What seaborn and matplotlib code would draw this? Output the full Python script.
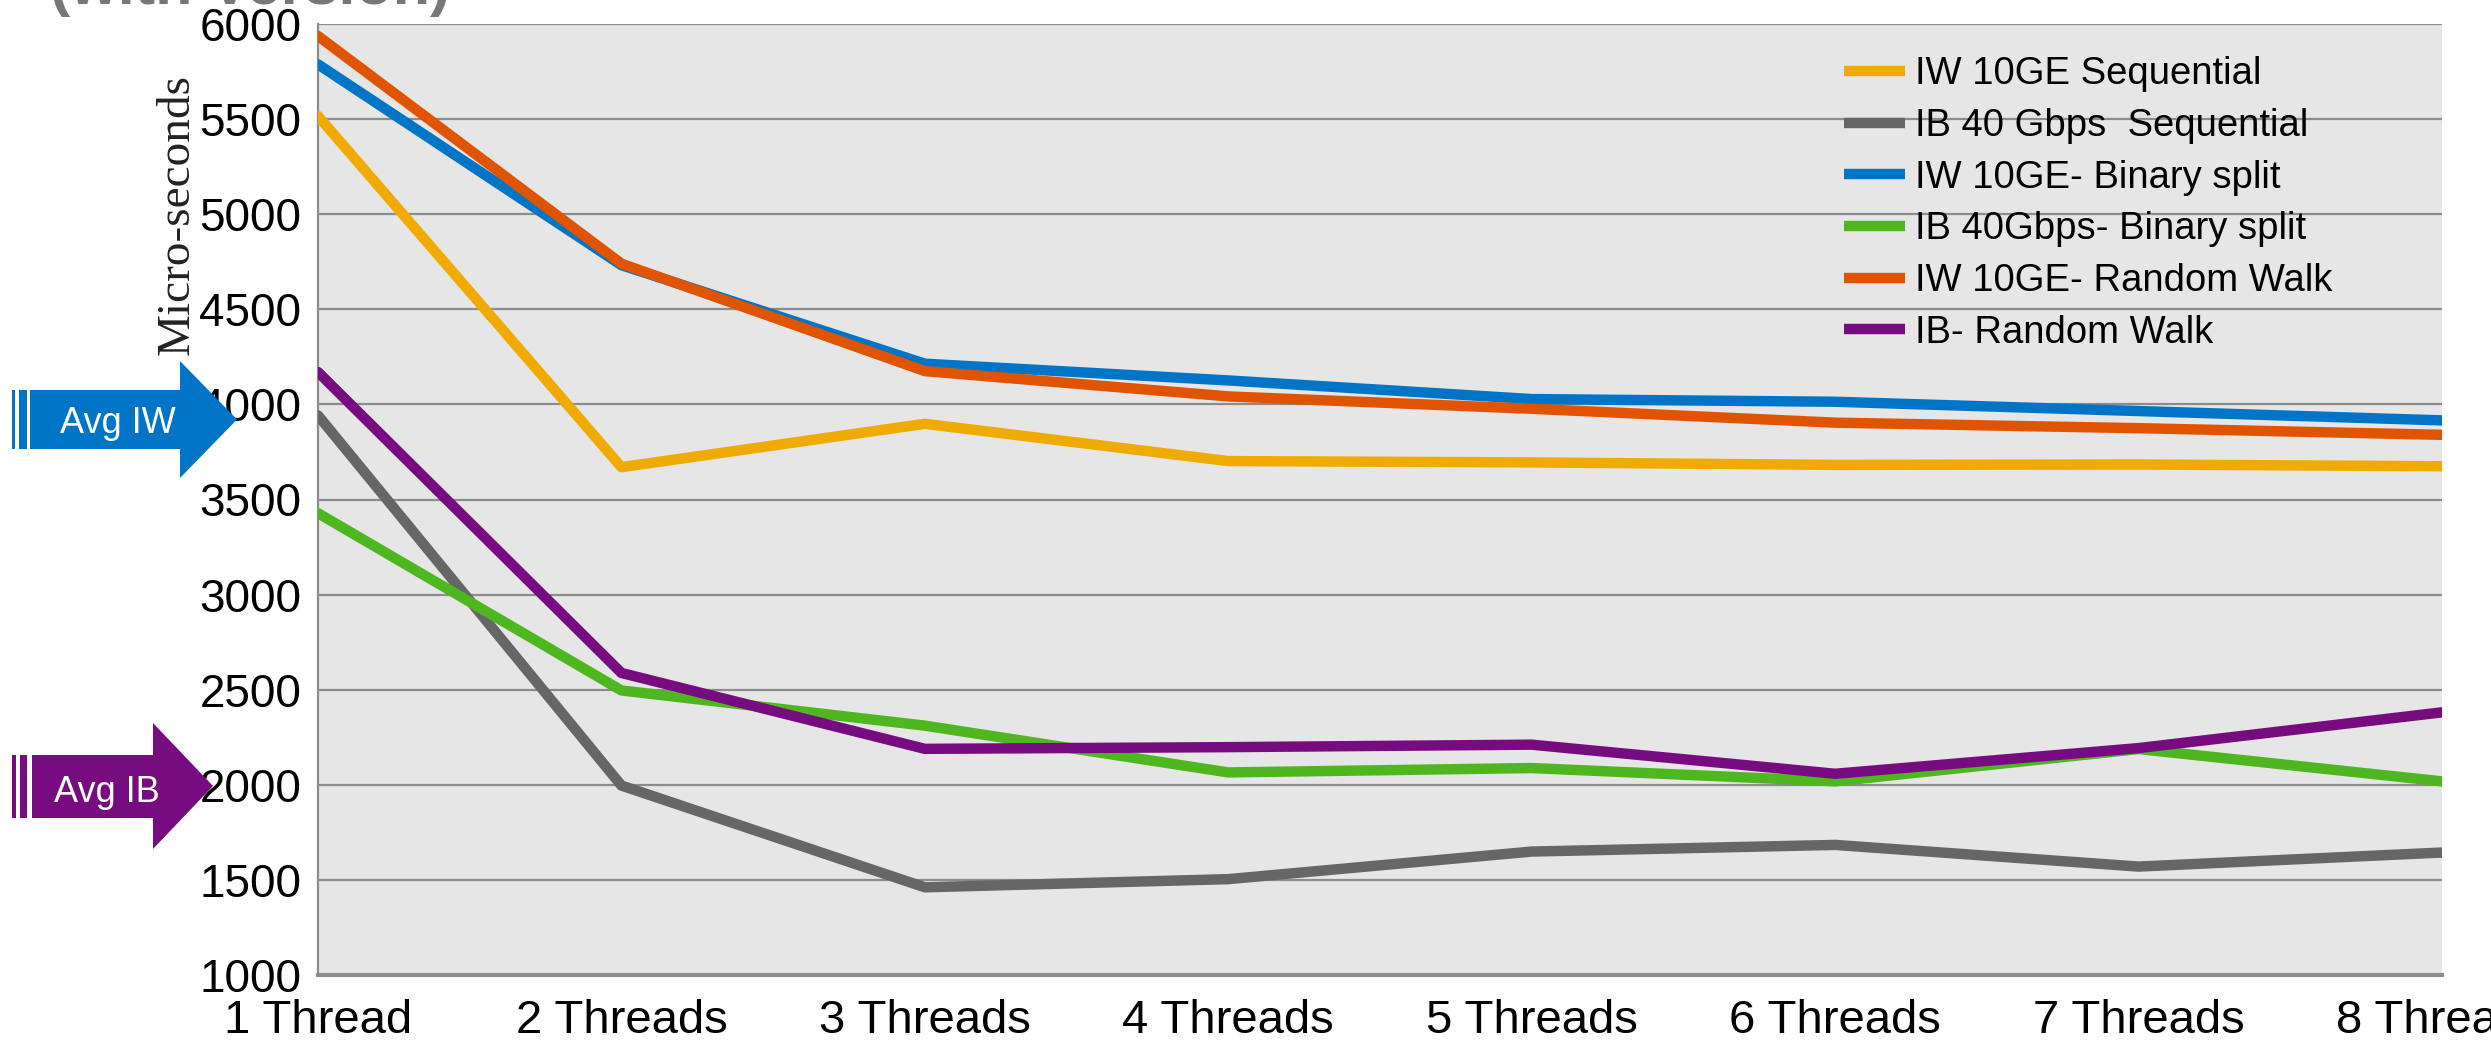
import numpy as np
import matplotlib
matplotlib.use("Agg")
import matplotlib.pyplot as plt
import matplotlib.patches as mpatches
import seaborn as sns
import pandas as pd

# Data (micro-seconds)
threads = ["1 Thread", "2 Threads", "3 Threads", "4 Threads",
           "5 Threads", "6 Threads", "7 Threads", "8 Threads"]
iw_seq = [5516, 3670, 3898, 3702, 3695, 3682, 3684, 3675]
ib_seq = [3942, 1996, 1461, 1504, 1649, 1684, 1570, 1644]
iw_bin = [5788, 4732, 4214, 4126, 4028, 4014, 3965, 3916]
ib_bin = [3428, 2496, 2311, 2065, 2088, 2018, 2188, 2018]
iw_rw = [5937, 4740, 4175, 4042, 3977, 3904, 3875, 3840]
ib_rw = [4170, 2588, 2189, 2198, 2211, 2058, 2193, 2381]

series_names = ["IW 10GE Sequential", "IB 40 Gbps  Sequential", "IW 10GE- Binary split",
                "IB 40Gbps- Binary split", "IW 10GE- Random Walk", "IB- Random Walk"]
series_vals = [iw_seq, ib_seq, iw_bin, ib_bin, iw_rw, ib_rw]
colors = ["#f0ab00", "#666666", "#0075c8", "#4eb71f", "#e05400", "#770c80"]

rows = []
for name, vals in zip(series_names, series_vals):
    for t, v in zip(threads, vals):
        rows.append({"threads": t, "us": v, "series": name})
df = pd.DataFrame(rows)

sns.set_style("white")
plt.rcParams["font.family"] = ["Liberation Sans", "DejaVu Sans"]
plt.rcParams["text.color"] = "black"

W, H = 2491, 1044
fig = plt.figure(figsize=(W / 100, H / 100), dpi=100)
ax = fig.add_axes([318 / W, 1 - 975 / H, 2124 / W, 951 / H])
ax.set_facecolor("#e6e6e6")

sns.lineplot(data=df, x="threads", y="us", hue="series", hue_order=series_names,
             palette=colors, linewidth=7.5, sort=False, ax=ax, zorder=3)

ax.set_xlim(0, 7)
ax.set_ylim(1000, 6000)
ax.set_yticks(range(1000, 6001, 500))
ax.grid(axis="y", color="#8c8c8c", linewidth=1.6, zorder=1)
ax.set_axisbelow(True)
for s in ["top", "right"]:
    ax.spines[s].set_visible(False)
ax.spines["left"].set_color("#8c8c8c")
ax.spines["left"].set_linewidth(1.6)
ax.spines["bottom"].set_color("#8c8c8c")
ax.spines["bottom"].set_linewidth(3)
ax.tick_params(axis="y", length=7, width=1.4, color="#8c8c8c", pad=5, labelsize=33,
               labelcolor="black")
ax.tick_params(axis="x", length=8, width=1.4, color="#8c8c8c", pad=9, labelsize=34,
               labelcolor="black")
ax.set_xlabel("")
ax.set_ylabel("")

ax.text(-0.066, 0.80, "Micro-seconds", rotation=90, ha="center", va="center",
        transform=ax.transAxes, fontsize=34, family="Liberation Serif", color="#222222")

handles, labels = ax.get_legend_handles_labels()
leg = ax.legend(handles, labels, loc="upper left", bbox_to_anchor=(0.7185, 0.966),
                frameon=False, fontsize=27.5, handlelength=1.6, handletextpad=0.25,
                labelspacing=0.41, borderpad=0, borderaxespad=0)
for ln in leg.get_lines():
    ln.set_linewidth(7.5)
    ln.set_solid_capstyle("butt")


def px(x, y):
    return (x / W, 1 - y / H)


def striped_arrow(x_body, x_head, x_tip, y_top, y_bot, h_top, h_bot, stripes, color):
    yc = (h_top + h_bot) / 2
    pts = [px(x_body, y_top), px(x_head, y_top), px(x_head, h_top), px(x_tip, yc),
           px(x_head, h_bot), px(x_head, y_bot), px(x_body, y_bot)]
    fig.patches.append(mpatches.Polygon(pts, closed=True, facecolor=color, edgecolor="none",
                                        transform=fig.transFigure, figure=fig))
    for a, b in stripes:
        fig.patches.append(mpatches.Rectangle(px(a, y_bot), (b - a) / W, (y_bot - y_top) / H,
                                              facecolor=color, edgecolor="none",
                                              transform=fig.transFigure, figure=fig))


striped_arrow(30, 180, 237, 390, 449, 361, 478, [(12, 15), (19, 27)], "#0075c8")
striped_arrow(32, 153, 213, 755, 818, 723, 849, [(12, 16), (20, 27)], "#770c80")
fig.text(118 / W, 1 - 433 / H, "Avg IW", color="white", fontsize=26, ha="center", va="baseline")
fig.text(107 / W, 1 - 802 / H, "Avg IB", color="white", fontsize=26, ha="center", va="baseline")

# title cut off at the top edge in the original
fig.text(50 / W, 1 - 4 / H, "(with Version)", color="#777777", fontsize=44,
         fontweight="bold", ha="left", va="baseline")

fig.savefig("out.png", dpi=100)
